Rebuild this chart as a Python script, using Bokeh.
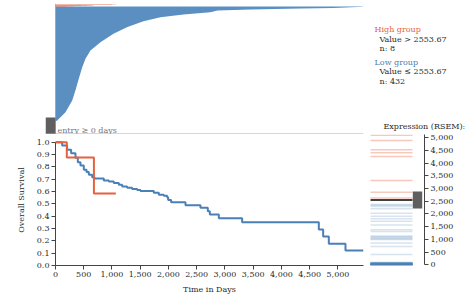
from bokeh.plotting import figure
from bokeh.layouts import column, row
from bokeh.models import Range1d, Span, Label, NumeralTickFormatter, FixedTicker, ColumnDataSource
from bokeh.embed import file_html
from bokeh.resources import INLINE

# ---------------- data ----------------
# Kaplan-Meier, low group (time in days, survival)
low_t = [0, 118, 206, 277, 354, 395, 442, 501, 549, 590, 649, 690, 855, 944, 1032, 1121, 1180,
         1268, 1357, 1445, 1504, 1740, 1829, 1917, 1976, 1994, 2047, 2301, 2566, 2696, 2732,
         2891, 3304, 4661, 4738, 4838, 5133, 5452]
low_s = [1.0, 0.973, 0.938, 0.911, 0.873, 0.838, 0.811, 0.776, 0.757, 0.735, 0.716, 0.705, 0.689,
         0.681, 0.668, 0.654, 0.641, 0.630, 0.620, 0.613, 0.603, 0.589, 0.573, 0.565, 0.554,
         0.532, 0.513, 0.489, 0.468, 0.440, 0.414, 0.384, 0.351, 0.292, 0.235, 0.176, 0.122, 0.122]
# Kaplan-Meier, high group
high_t = [0, 200, 680, 1068]
high_s = [1.0, 0.875, 0.583, 0.583]

# follow-up times (top panel): high group rows (ascending) and low group profile
high_follow = [200, 320, 450, 560, 640, 680, 1000, 1068]
low_rank = [0, 4, 35, 79, 117, 161, 204, 236, 267, 298, 330, 355, 377, 392, 402, 411, 417,
            421, 425, 427, 431, 432]
low_follow = [0, 30, 177, 296, 354, 412, 473, 531, 619, 796, 1026, 1274, 1557, 1858, 2265,
              2743, 2867, 3451, 4336, 4920, 5452, 5452]

# expression (RSEM)
threshold = 2553.67
high_expr = [5100, 4895, 4528, 4410, 4265, 3320, 2861, 2625]
low_expr = [2375, 2340, 2297, 2205, 2034, 1916, 1811, 1719, 1562, 1378, 1312, 1129, 1100,
            1063, 1030, 997, 853, 722, 407,
            95, 88, 80, 72, 66, 60, 55, 48, 44, 40, 35, 30, 27, 25, 22, 20, 18, 15, 12, 10,
            8, 6, 5, 4, 3, 2, 1, 0, 0, 0, 0]
n_high = len(high_expr)
n_low = 432
x_max = 5452

x_ticks = [0, 500, 1000, 1500, 2000, 2500, 3000, 3500, 4000, 4500, 5000]
y_ticks = [0.0, 0.1, 0.2, 0.3, 0.4, 0.5, 0.6, 0.7, 0.8, 0.9, 1.0]
e_ticks = [0, 500, 1000, 1500, 2000, 2500, 3000, 3500, 4000, 4500, 5000]

ORANGE = "#e8613c"
BLUE = "#4a80b5"
AREA_BLUE = "#5b8fc2"
FONT = "DejaVu Serif"
FS = "8px"
TXT = "#2a2a2a"


def base(fig):
    fig.border_fill_color = "white"
    fig.background_fill_color = "white"
    fig.outline_line_color = None
    fig.xgrid.visible = False
    fig.ygrid.visible = False
    return fig


def style_axis(ax):
    ax.axis_line_color = "#444444"
    ax.major_tick_line_color = "#444444"
    ax.minor_tick_line_color = None
    ax.major_tick_in = 0
    ax.major_tick_out = 4
    ax.major_label_text_font = FONT
    ax.major_label_text_font_size = FS
    ax.major_label_text_color = TXT
    ax.axis_label_text_font = FONT
    ax.axis_label_text_font_size = FS
    ax.axis_label_text_font_style = "normal"
    ax.axis_label_text_color = TXT


# ---------------- top panel ----------------
top = figure(width=365, height=134, x_range=Range1d(-177, x_max), y_range=Range1d(-48.9, 443.6),
             output_backend="svg", toolbar_location=None, x_axis_location=None,
             y_axis_location=None, min_border_left=45, min_border_right=2,
             min_border_top=3, min_border_bottom=0)
base(top)
top.add_layout(Span(location=0, dimension="height", line_color="#c8c8c8", line_width=1,
                    level="underlay"))
top.harea(x1=0, x2=low_follow, y=low_rank, fill_color=AREA_BLUE)
hsrc = ColumnDataSource(dict(y=[n_low + 0.5 + i for i in range(n_high)], right=high_follow))
top.hbar(y="y", left=0, right="right", height=1, source=hsrc, fill_color=ORANGE,
         line_color=None)
top.add_layout(Span(location=-47.5, dimension="width", line_color="#b0b0b0", line_width=1.5))
top.quad(left=-177, right=0, bottom=-48.9, top=15, fill_color="#5f5f5f", line_color=None)
top.add_layout(Label(x=35, y=-34, text="entry \u2265 0 days", text_font=FONT, text_font_size=FS,
                     text_color="#777777", text_baseline="alphabetic"))

# ---------------- legend panel ----------------
leg = figure(width=104, height=134, x_range=Range1d(365, 469), y_range=Range1d(134, 0),
             output_backend="svg", toolbar_location=None, x_axis_location=None,
             y_axis_location=None, min_border=0)
base(leg)
entries = [
    ("High group", 374, 27, ORANGE),
    ("Value > %.2f" % threshold, 379, 36.7, TXT),
    ("n: %d" % n_high, 379, 46, TXT),
    ("Low group", 374, 60, BLUE),
    ("Value \u2264 %.2f" % threshold, 379, 70, TXT),
    ("n: %d" % n_low, 379, 80, TXT),
    ("Expression (RSEM):", 383, 125.5, TXT),
]
for t, x, y, c in entries:
    leg.add_layout(Label(x=x, y=y, text=t, text_font=FONT, text_font_size=FS, text_color=c,
                         text_baseline="alphabetic"))

# ---------------- KM panel ----------------
km = figure(width=365, height=164, x_range=Range1d(0, x_max), y_range=Range1d(0, 1.062),
            output_backend="svg", toolbar_location=None, min_border_left=55,
            min_border_right=2, min_border_top=0, min_border_bottom=33)
base(km)
km.step(low_t, low_s, mode="after", line_color=BLUE, line_width=2)
km.step(high_t, high_s, mode="after", line_color=ORANGE, line_width=2)
km.xaxis.ticker = FixedTicker(ticks=x_ticks)
km.xaxis.formatter = NumeralTickFormatter(format="0,0")
km.yaxis.ticker = FixedTicker(ticks=y_ticks)
km.yaxis.formatter = NumeralTickFormatter(format="0.0")
km.yaxis.bounds = (0, 1.0)
km.xaxis.axis_label = "Time in Days"
km.yaxis.axis_label = "Overall Survival"
for ax in km.axis:
    style_axis(ax)
km.xaxis.major_label_standoff = 2
km.xaxis.axis_label_standoff = 5
km.yaxis.major_label_standoff = 2
km.yaxis.axis_label_standoff = 8

# ---------------- expression strip ----------------
ex = figure(width=104, height=164, x_range=Range1d(0, 55), y_range=Range1d(-28, 5130),
            output_backend="svg", toolbar_location=None, x_axis_location=None,
            y_axis_location="right", min_border_left=4, min_border_right=45,
            min_border_top=0, min_border_bottom=33)
base(ex)
lsrc = ColumnDataSource(dict(y=low_expr))
ex.segment(x0=1, x1=43, y0="y", y1="y", source=lsrc, line_color=BLUE, line_alpha=0.22,
           line_width=1.5)
hsrc2 = ColumnDataSource(dict(y=high_expr))
ex.segment(x0=1, x1=43, y0="y", y1="y", source=hsrc2, line_color=ORANGE, line_alpha=0.35,
           line_width=1.5)
ex.segment(x0=[1], x1=[43], y0=[threshold], y1=[threshold], line_color="black", line_width=1.5)
ex.quad(left=43.3, right=52.7, bottom=threshold - 334, top=threshold + 334,
        fill_color="#5f5f5f", line_color=None)
ex.yaxis.ticker = FixedTicker(ticks=e_ticks)
ex.yaxis.formatter = NumeralTickFormatter(format="0,0")
ex.yaxis.bounds = (0, 5130)
for ax in ex.yaxis:
    style_axis(ax)
    ax.major_label_standoff = 2

layout = column(row(top, leg), row(km, ex),
                styles={"position": "absolute", "left": "0px", "top": "0px"})

open("out.html", "w").write(file_html(layout, INLINE))
